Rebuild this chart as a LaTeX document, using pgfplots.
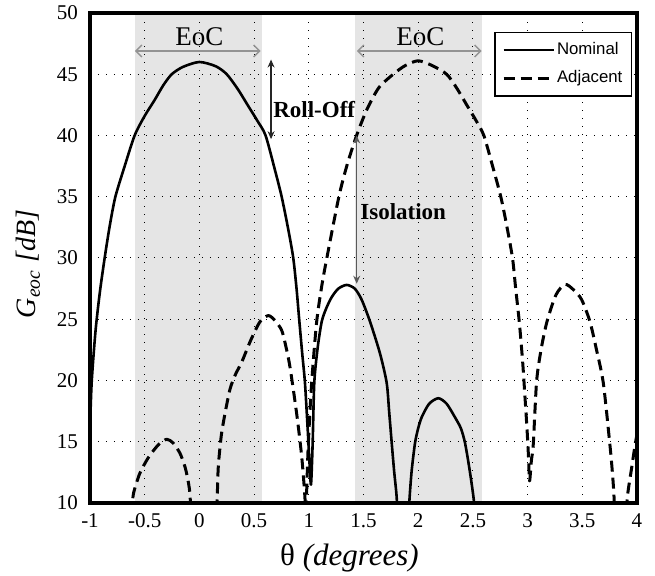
\documentclass[border=0pt]{standalone}
\usepackage{fontspec}
\setmainfont{Liberation Serif}
\newfontfamily\arial{Liberation Sans}
\usepackage{pgfplots}
\pgfplotsset{compat=1.18}
\usetikzlibrary{arrows.meta}
\begin{document}
\begin{tikzpicture}
\begin{axis}[
  at={(0,0)}, anchor=south west,
  scale only axis, width=273.5pt, height=245pt,
  xmin=-1, xmax=4, ymin=10, ymax=50,
  xtick={-1,-0.5,0,0.5,1,1.5,2,2.5,3,3.5,4},
  ytick={10,15,20,25,30,35,40,45,50},
  /pgf/number format/assume math mode=true,
  ticklabel style={font=\fontsize{10.5}{12}\selectfont},
  yticklabel style={xshift=-2.5pt},
  xticklabel style={yshift=-1.7pt},
  major tick length=0pt,
  grid=major,
  major grid style={black, line width=0.5pt, dash pattern=on 0.7pt off 3.3pt},
  axis line style={line width=1.6pt},
  set layers,
  xlabel={θ \textit{(degrees)}},
  ylabel={\textit{G}\textsubscript{\textit{eoc}} \textit{[dB]}},
  every axis x label/.style={at={(axis description cs:0.4744,-0.1122)}, anchor=center, font=\fontsize{15.5}{18}\selectfont},
  every axis y label/.style={at={(axis description cs:-0.1133,0.488)}, anchor=center, rotate=90, font=\fontsize{14}{16}\selectfont},
  legend style={at={(1,1)}, anchor=north east, xshift=-2.5pt, yshift=-9.5pt, draw=black, line width=0.6pt,
    font=\arial\fontsize{8.4}{10}\selectfont, inner xsep=3.5pt, inner ysep=4pt, row sep=4.5pt, nodes={inner sep=1pt}},
  legend cell align=left,
  legend image code/.code={\draw[#1] (0pt,0pt) -- (25pt,0pt);},
]
% EoC bands
\addplot[forget plot, fill=gray!20, draw=none, on layer=axis background] coordinates {(-0.59,50) (0.57,50)} \closedcycle;
\addplot[forget plot, fill=gray!20, draw=none, on layer=axis background] coordinates {(1.42,50) (2.58,50)} \closedcycle;

% Nominal main + first sidelobe
\addplot[black, line width=1.3pt, line join=round, smooth, tension=0.45] coordinates {
(-1.0,16) (-0.985,19.8) (-0.95,24) (-0.91,27.2) (-0.866,30) (-0.82,32.6) (-0.768,35) (-0.683,37.5)
(-0.592,40) (-0.5,41.6) (-0.409,42.9) (-0.33,44.1) (-0.253,45) (-0.15,45.6) (0,46)
(0.15,45.65) (0.25,45) (0.35,43.8) (0.447,42.4) (0.53,41.2) (0.605,40) (0.69,37.2) (0.752,35)
(0.813,32.3) (0.858,30) (0.888,27.5) (0.913,24.9) (0.94,22.2) (0.965,19.8) (0.99,16) (1.005,13.5)
(1.02,11.5) (1.035,14.8) (1.05,19.8) (1.08,22.6) (1.118,24.8) (1.16,25.9) (1.209,26.8) (1.27,27.5)
(1.346,27.8) (1.42,27.5) (1.483,26.6) (1.56,24.8) (1.651,22.2) (1.712,19.8) (1.735,17.4) (1.758,14.9)
(1.78,12.6) (1.803,10.5) (1.815,8)
};
\addlegendentry{Nominal}

% Adjacent main lobe with neighbouring sidelobes
\addplot[black, line width=1.5pt, dash pattern=on 5.5pt off 3pt, line join=round, smooth, tension=0.45] coordinates {
(0.158,8) (0.164,10.65) (0.173,13.0) (0.2,15.5) (0.234,17.3) (0.28,19.3) (0.33,20.5) (0.387,21.5)
(0.47,23.3) (0.554,24.8) (0.63,25.3) (0.69,24.9) (0.752,24.1) (0.79,22.8) (0.828,21.1) (0.889,17.3)
(0.935,13.8) (0.965,10.4) (0.972,8) (0.978,10.2) (0.995,14.7) (1.026,19.8) (1.072,24.8) (1.12,27.8)
(1.165,30) (1.275,35) (1.35,37.6) (1.437,40) (1.53,42.1) (1.64,43.9) (1.772,45) (1.88,45.7) (2.0,46.1)
(2.13,45.7) (2.26,45) (2.35,43.9) (2.45,42.4) (2.53,41.2) (2.6,40) (2.68,37.5) (2.755,35) (2.81,32.6)
(2.862,30) (2.89,27.6) (2.925,24.7) (2.955,21.5) (2.975,18.8) (2.995,16) (3.008,13.8) (3.018,11.8)
(3.035,13.5) (3.052,14.8) (3.083,20) (3.129,22.8) (3.18,24.9) (3.26,27) (3.342,27.85) (3.42,27.4)
(3.494,26.6) (3.57,24.8) (3.63,22.5) (3.692,19.8) (3.753,14.7) (3.775,12.5) (3.79,10.5) (3.797,8)
};
\addlegendentry{Adjacent}

% Nominal second sidelobe
\addplot[forget plot, black, line width=1.3pt, line join=round, smooth, tension=0.45] coordinates {
(1.91,8) (1.919,10.1) (1.94,12.6) (1.971,14.9) (2.0,16.1) (2.032,17.0) (2.1,18.1) (2.184,18.55)
(2.26,18.1) (2.336,17.0) (2.39,16.1) (2.428,14.9) (2.47,12.7) (2.51,10.1) (2.52,8)
};
% Adjacent second left sidelobe
\addplot[forget plot, black, line width=1.5pt, dash pattern=on 5.5pt off 3pt, line join=round, smooth, tension=0.45] coordinates {
(-0.615,9) (-0.604,10.7) (-0.55,12.3) (-0.5,13.2) (-0.452,13.9) (-0.37,14.8) (-0.299,15.2) (-0.24,14.9)
(-0.177,14.05) (-0.13,12.9) (-0.101,11.7) (-0.086,10.7) (-0.078,9)
};
% Adjacent rising beyond 3.8
\addplot[forget plot, black, line width=1.5pt, dash pattern=on 5.5pt off 3pt, line join=round, smooth, tension=0.45] coordinates {
(3.905,8) (3.911,10.4) (3.95,12.8) (3.982,14.7) (4.0,15.6)
};

% Annotations
\addplot[forget plot, gray!85, line width=0.7pt, {Straight Barb[length=3pt,width=6pt]}-{Straight Barb[length=3pt,width=6pt]}] coordinates {(-0.59,46.9) (0.56,46.9)};
\addplot[forget plot, gray!85, line width=0.7pt, {Straight Barb[length=3pt,width=6pt]}-{Straight Barb[length=3pt,width=6pt]}] coordinates {(1.44,46.9) (2.58,46.9)};
\addplot[forget plot, black!85, line width=0.6pt, {Stealth[length=4pt,width=3.5pt]}-{Stealth[length=4pt,width=3.5pt]}] coordinates {(0.655,39.7) (0.655,46.2)};
\addplot[forget plot, black!65, line width=0.6pt, {Stealth[length=4pt,width=3.5pt]}-{Stealth[length=4pt,width=3.5pt]}] coordinates {(1.438,40) (1.438,27.9)};

\node[anchor=west, inner sep=0pt, font=\bfseries\fontsize{11.5}{13}\selectfont] at (axis cs:0.672,42.1) {Roll-Off};
\node[anchor=west, inner sep=0pt, font=\bfseries\fontsize{11.5}{13}\selectfont] at (axis cs:1.468,33.8) {Isolation};
\node[inner sep=0pt, font=\fontsize{13.5}{15}\selectfont] at (axis cs:0,48.1) {EoC};
\node[inner sep=0pt, font=\fontsize{13.5}{15}\selectfont] at (axis cs:2.02,48.1) {EoC};
\end{axis}
\pgfresetboundingbox
\path[use as bounding box] (-45pt,-36.5pt) rectangle (282.5pt,251.5pt);
\end{tikzpicture}
\end{document}
